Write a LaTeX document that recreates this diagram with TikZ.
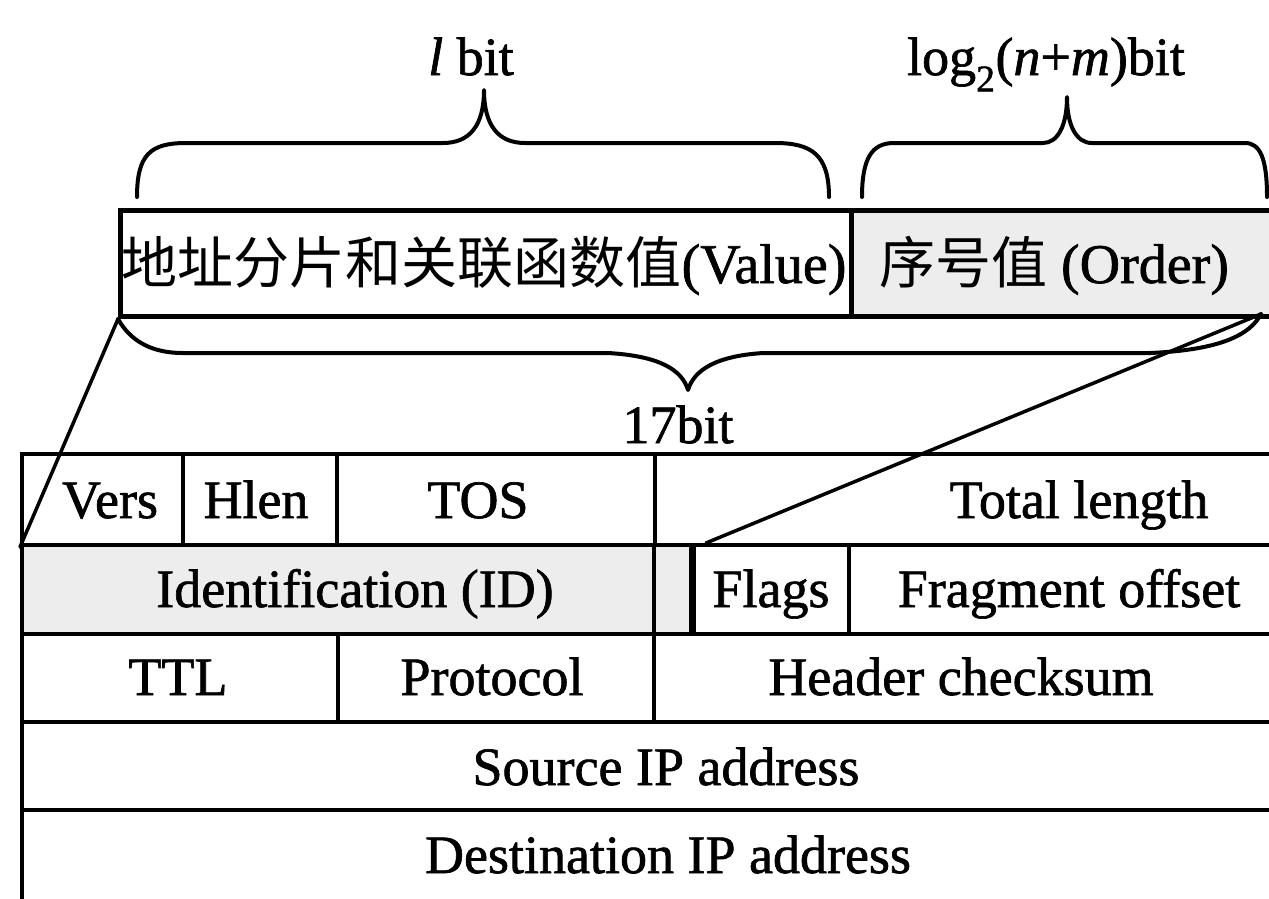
\documentclass[tikz,border=0pt]{standalone}
\usepackage{fontspec}
\setmainfont{Liberation Serif}[FakeBold=1.2]
\newfontfamily\cjk{Noto Sans CJK SC}
\usetikzlibrary{calc}
\tikzset{
  cell/.style={draw, line width=4pt, inner sep=0pt, anchor=north west},
  shaded/.style={fill=black!7},
  txt/.style={font=\fontsize{54}{60}\selectfont, anchor=base, inner sep=0pt},
  cjktxt/.style={font=\fontsize{56}{60}\selectfont, anchor=base, inner sep=0pt},
  brace/.style={line width=4pt, line cap=round, line join=round},
  link/.style={line width=3.5pt, line cap=round}
}
\begin{document}
\begin{tikzpicture}[x=1pt, y=-1pt]
\useasboundingbox (0,0) rectangle (1269,898);
\clip (0,0) rectangle (1269,898);
\fill[white] (0,0) rectangle (1269,898);

% top field boxes
\node[cell, line width=5pt, minimum width=731pt, minimum height=106pt] (value) at (118,208) {};
\node[cell, shaded, line width=5pt, minimum width=440pt, minimum height=106pt] (order) at (849,208) {};
\node[cjktxt] (valuet) at (484,283) {{\cjk 地址分片和关联函数值}(Value)};
\node[cjktxt] (ordert) at (1054,283) {{\cjk 序号值} (Order)};

% header table
\node[cell, minimum width=161pt, minimum height=91pt] (vers)  at (20,452) {};
\node[cell, minimum width=154pt, minimum height=91pt] (hlen)  at (181,452) {};
\node[cell, minimum width=318pt, minimum height=91pt] (tos)   at (335,452) {};
\node[cell, minimum width=640pt, minimum height=91pt] (total) at (653,452) {};
\node[cell, shaded, minimum width=632pt, minimum height=89pt] (ident) at (20,543) {};
\node[cell, shaded, minimum width=40pt, minimum height=89pt] (small) at (652,543) {};
\node[cell, minimum width=155pt, minimum height=89pt] (flags) at (692,543) {};
\draw[line width=5.5pt] (flags.north west) -- (flags.south west);
\node[cell, minimum width=446pt, minimum height=89pt] (frag)  at (847,543) {};
\node[cell, minimum width=316pt, minimum height=88pt] (ttl)   at (20,632) {};
\node[cell, minimum width=316pt, minimum height=88pt] (proto) at (336,632) {};
\node[cell, minimum width=641pt, minimum height=88pt] (hdr)   at (652,632) {};
\node[cell, minimum width=1273pt, minimum height=88pt] (src)  at (20,720) {};
\node[cell, minimum width=1273pt, minimum height=130pt] (dst) at (20,808) {};

\node[txt] (verst)  at (110,518) {Vers};
\node[txt] (hlent)  at (256,518) {Hlen};
\node[txt] (tost)   at (478,518) {TOS};
\node[txt] (totalt) at (1079,518) {Total length};
\node[txt] (identt) at (355,607) {Identification (ID)};
\node[txt] (flagst) at (771,607) {Flags};
\node[txt] (fragt)  at (1069,607) {Fragment offset};
\node[txt] (ttlt)   at (178,695) {TTL};
\node[txt] (protot) at (492,695) {Protocol};
\node[txt] (hdrt)   at (961,695) {Header checksum};
\node[txt] (srct)   at (666,785) {Source IP address};
\node[txt] (dstt)   at (668,873) {Destination IP address};

% braces and their labels
\draw[brace] (137,197) .. controls (137,155) and (150,143) .. (186,143) -- (443,143)
  .. controls (470,143) and (484,125) .. (484,90)
  .. controls (484,125) and (498,143) .. (525,143) -- (775,143)
  .. controls (812,143) and (829,155) .. (829,197);
\draw[brace] (862,197) .. controls (862,158) and (872,143) .. (894,143) -- (1043,143)
  .. controls (1058,143) and (1067,125) .. (1067,97)
  .. controls (1067,125) and (1076,143) .. (1092,143) -- (1245,143)
  .. controls (1260,143) and (1267,158) .. (1267,197);
\coordinate (oc) at (1261,314);
\draw[brace] (value.south west) .. controls (130,340) and (150,353) .. (183,353) -- (608,353)
  .. controls (660,356) and (682,370) .. (688,390)
  .. controls (694,370) and (716,356) .. (763,353) -- (1150,353)
  .. controls (1220,350) and (1250,335) .. (oc);

\node[txt] (lbit) at (471,75) {\textit{l} bit};
\node[txt] (logbit) at (1046,75) {log\textsubscript{2}(\textit{n}+\textit{m})bit};
\node[txt] (bits) at (678,443) {17bit};

% connectors
\draw[link] (value.south west) -- (vers.south west);
\draw[link] (oc) -- ($(flags.north west)+(14,0)$);
\end{tikzpicture}
\end{document}
